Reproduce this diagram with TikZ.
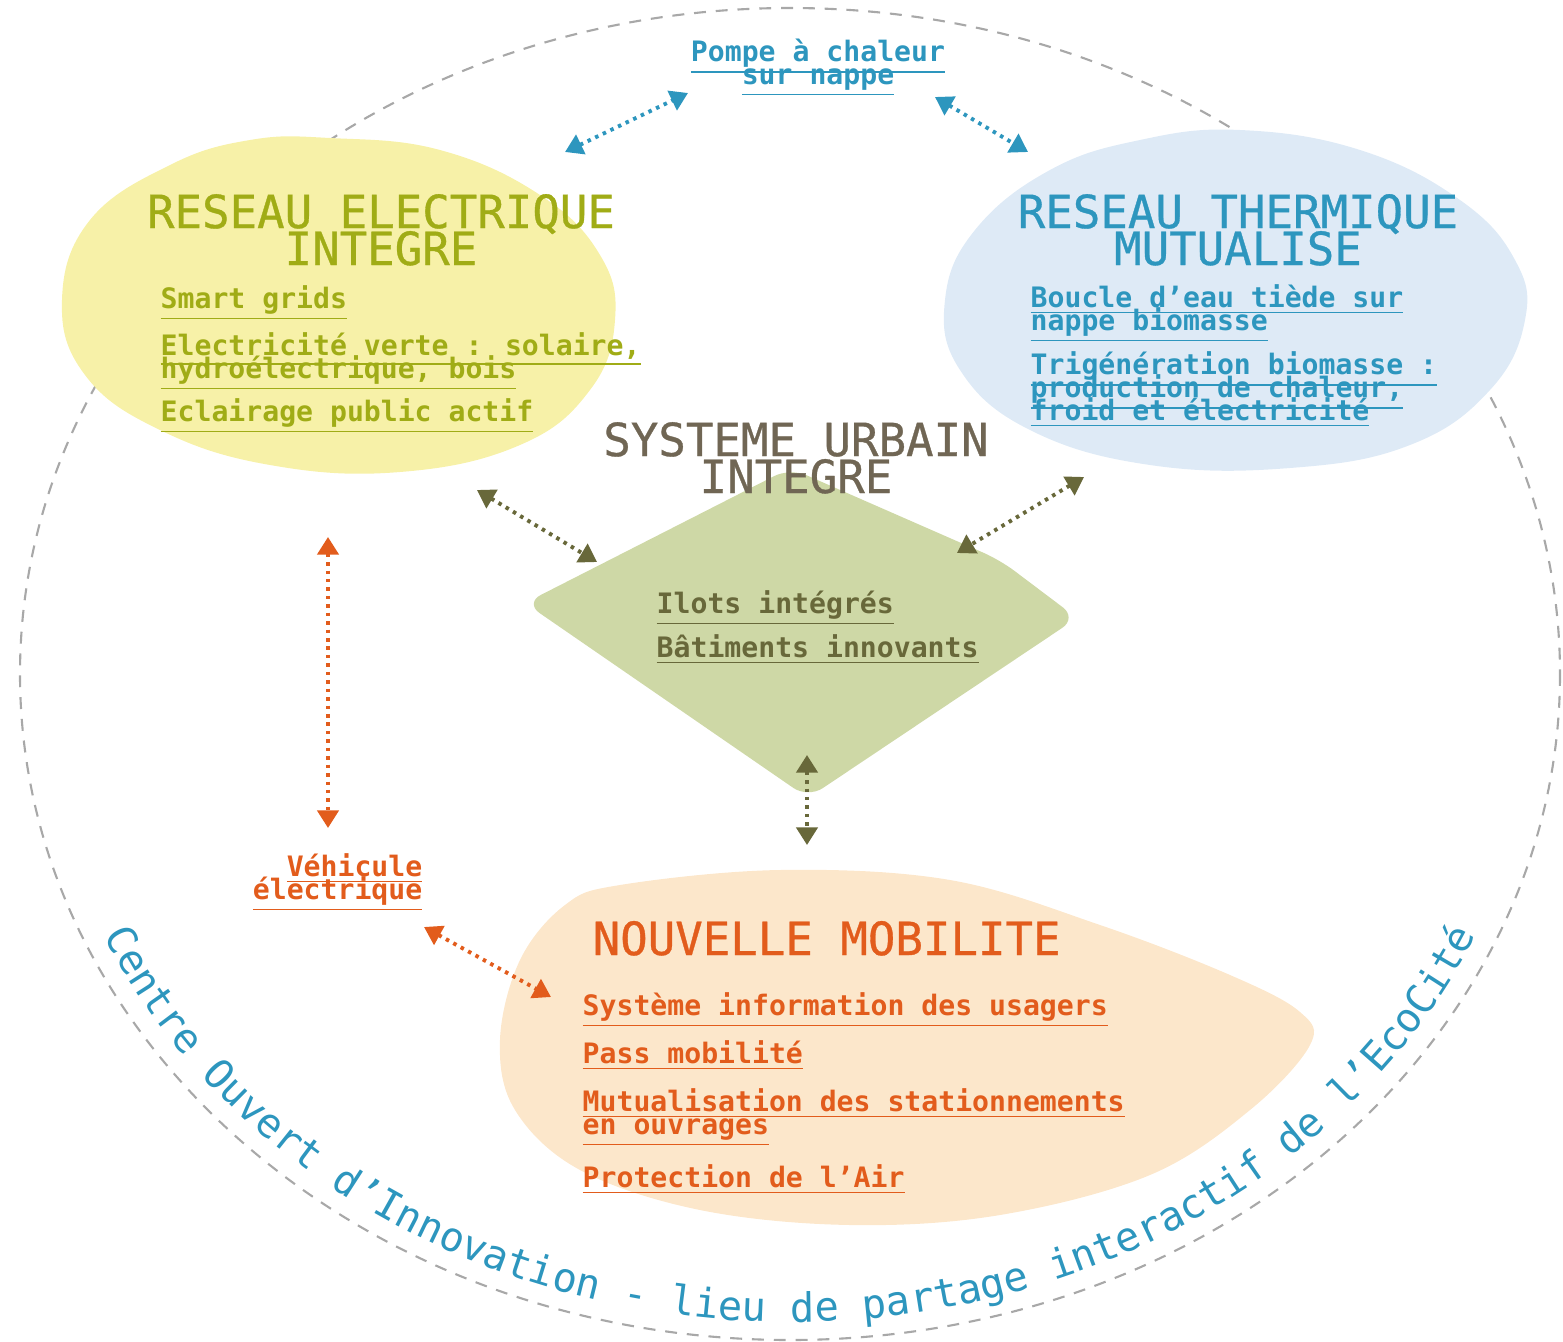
\documentclass[tikz,border=0pt]{standalone}
\usepackage{fontspec}
\usetikzlibrary{arrows.meta,decorations.text}
\newfontfamily\mono{DejaVu Sans Mono}
\newfontfamily\monotitre[FakeBold=0.7]{DejaVu Sans Mono}
\definecolor{jauneblob}{RGB}{247,241,168}
\definecolor{jaunetxt}{RGB}{160,172,22}
\definecolor{bleublob}{RGB}{222,234,246}
\definecolor{bleutxt}{RGB}{45,150,190}
\definecolor{vertblob}{RGB}{206,216,166}
\definecolor{brunTxt}{RGB}{112,102,84}
\definecolor{olivetxt}{RGB}{104,104,58}
\definecolor{pecheblob}{RGB}{252,231,203}
\definecolor{orangetxt}{RGB}{226,92,28}
\definecolor{gristrait}{RGB}{168,168,168}
\newcommand\souligne[1]{\underline{#1}}
\newcommand\grandmono{\monotitre\fontsize{13}{10.5}\selectfont\lineskiplimit-10pt\relax}
\newcommand\petitmono{\mono\bfseries\fontsize{8}{6.5}\selectfont\lineskiplimit-10pt\relax}
\newcommand\rondmono{\mono\fontsize{11.5}{12}\selectfont}

\begin{document}
\begin{tikzpicture}[x=0.01cm,y=-0.01cm]
  \tikzset{
    >={Triangle[length=5pt,width=6pt]},
    cercle/.style={gristrait, line width=0.6pt, dash pattern=on 3.4pt off 2.8pt},
    titre/.style={font=\grandmono, align=center, inner sep=0pt, anchor=base},
    item/.style={font=\petitmono, align=left, inner sep=0pt, anchor=base west},
    lien/.style={<->, line width=1.1pt, dash pattern=on 1pt off 1.4pt}
  }
  \useasboundingbox (0,0) rectangle (1563,1342);

  \draw[cercle] (790,674) ellipse [x radius=770, y radius=666];

  % les quatre taches
  \fill[jauneblob] plot[smooth cycle, tension=0.7] coordinates {(330,138) (440,150)
    (540,195) (600,255) (615,320) (590,390) (520,445) (400,472) (270,465) (160,430)
    (85,375) (62,300) (90,220) (170,165) (250,140)};
  \fill[bleublob] plot[smooth cycle, tension=0.7] coordinates {(1240,130) (1360,150)
    (1460,200) (1515,260) (1525,320) (1490,390) (1410,445) (1290,468) (1150,465)
    (1030,430) (960,370) (945,300) (975,230) (1050,170) (1140,140)};
  \fill[vertblob, rounded corners=5pt] (790,468) -- (1000,560) -- (1077,618)
    -- (808,798) -- (525,603) -- cycle;
  \fill[pecheblob] plot[smooth cycle, tension=0.6] coordinates {(620,885) (780,870)
    (950,880) (1100,925) (1230,975) (1300,1012) (1310,1045) (1250,1110) (1150,1175)
    (1000,1215) (850,1225) (700,1210) (580,1170) (515,1110) (500,1040) (520,960)
    (565,905)};

  % textes
  \node[item, text=bleutxt, align=center, anchor=base] (pac) at (818,84)
    {\souligne{Pompe à chaleur}\\\souligne{sur nappe}};

  \node[titre, text=jaunetxt] (elec) at (381,265) {RESEAU ELECTRIQUE\\INTEGRE};
  \node[item, text=jaunetxt] (smart) at (160,308) {\souligne{Smart grids}};
  \node[item, text=jaunetxt] (verte) at (160,378)
    {\souligne{Electricité verte : solaire,}\\\souligne{hydroélectrique, bois}};
  \node[item, text=jaunetxt] (eclair) at (160,421) {\souligne{Eclairage public actif}};

  \node[titre, text=bleutxt] (therm) at (1238,265) {RESEAU THERMIQUE\\MUTUALISE};
  \node[item, text=bleutxt] (boucle) at (1030,330)
    {\souligne{Boucle d’eau tiède sur}\\\souligne{nappe biomasse}};
  \node[item, text=bleutxt] (trigen) at (1030,420)
    {\souligne{Trigénération biomasse :}\\\souligne{production de chaleur,}\\\souligne{froid et électricité}};

  \node[titre, text=brunTxt] (urb) at (796,493) {SYSTEME URBAIN\\INTEGRE};
  \node[item, text=olivetxt] (ilots) at (656,613) {\souligne{Ilots intégrés}};
  \node[item, text=olivetxt] (bat) at (656,657) {\souligne{Bâtiments innovants}};

  \node[item, text=orangetxt, align=right, anchor=base east] (ve) at (423,899)
    {\souligne{Véhicule}\\\souligne{électrique}};

  \node[titre, text=orangetxt, anchor=base west] (mob) at (592,955) {NOUVELLE MOBILITE};
  \node[item, text=orangetxt] (sim) at (582,1015) {\souligne{Système information des usagers}};
  \node[item, text=orangetxt] (pass) at (582,1063) {\souligne{Pass mobilité}};
  \node[item, text=orangetxt] (mutu) at (582,1134)
    {\souligne{Mutualisation des stationnements}\\\souligne{en ouvrages}};
  \node[item, text=orangetxt] (air) at (582,1187) {\souligne{Protection de l’Air}};

  % liens
  \coordinate (pac-g) at (688,93);
  \coordinate (elec-h) at (565,152);
  \coordinate (pac-d) at (935,97);
  \coordinate (therm-h) at (1028,152);
  \coordinate (elec-b) at (477,490);
  \coordinate (urb-g) at (597,562);
  \coordinate (therm-b) at (1084,477);
  \coordinate (urb-d) at (957,553);
  \coordinate (urb-b) at (807,755);
  \coordinate (mob-h) at (807,845);
  \coordinate (elec-v) at (328,537);
  \coordinate (ve-h) at (328,828);
  \coordinate (ve-b) at (424,927);
  \coordinate (mob-g) at (551,997);

  \draw[lien, bleutxt] (elec-h) to (pac-g);
  \draw[lien, bleutxt] (pac-d) to (therm-h);
  \draw[lien, olivetxt] (elec-b) to (urb-g);
  \draw[lien, olivetxt] (therm-b) to (urb-d);
  \draw[lien, olivetxt] (urb-b) to (mob-h);
  \draw[lien, orangetxt] (elec-v) to (ve-h);
  \draw[lien, orangetxt] (ve-b) to (mob-g);

  \path[decorate, decoration={text along path, text align=center,
      text={|\rondmono\color{bleutxt}|Centre Ouvert d’Innovation - lieu de partage interactif de l’EcoCité}}]
    (790,674) ++(157:750 and 648) arc[start angle=157, end angle=23, x radius=750, y radius=648];
\end{tikzpicture}
\end{document}
